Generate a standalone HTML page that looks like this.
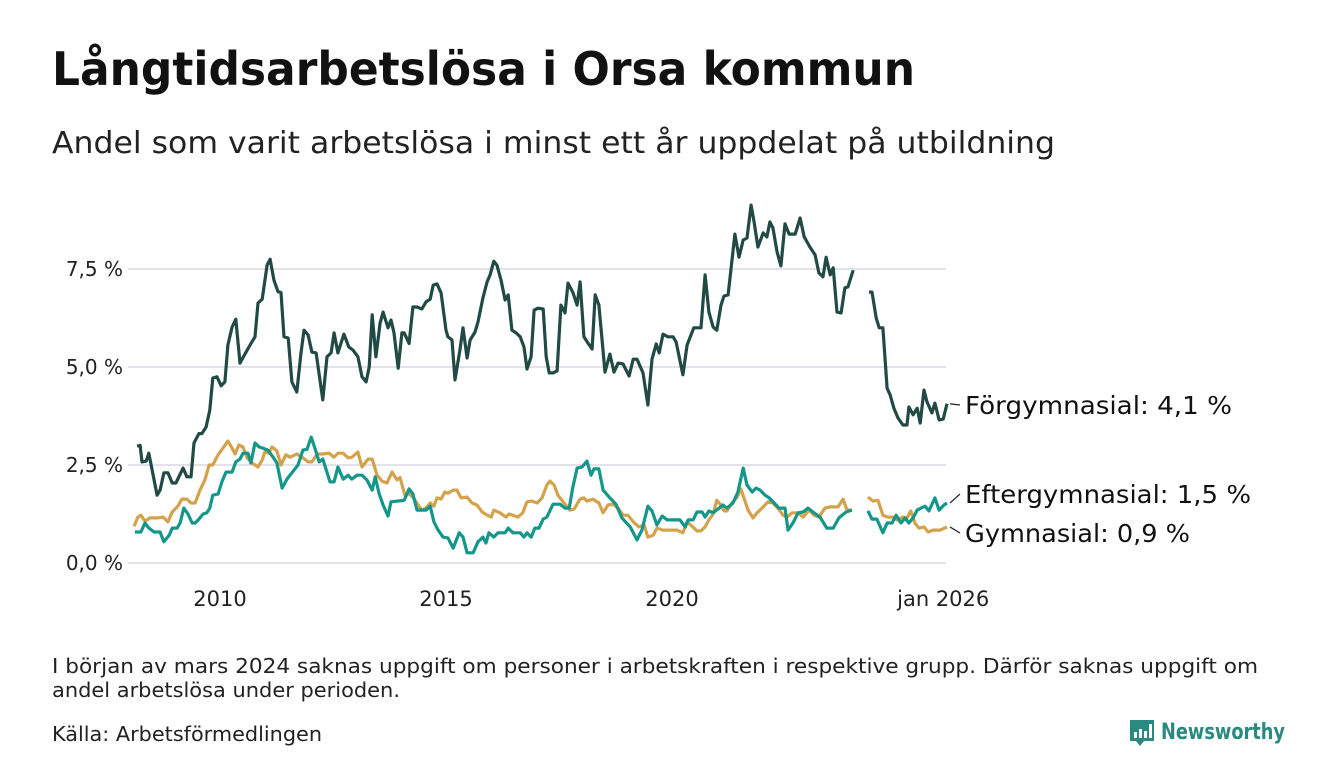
<!DOCTYPE html>
<html><head><meta charset="utf-8">
<style>
body{margin:0;background:#fff;font-family:"DejaVu Sans","Liberation Sans",sans-serif;}
#wrap{position:relative;width:1340px;height:780px;overflow:hidden;background:#fff;}
.t{position:absolute;white-space:nowrap;color:#111;transform-origin:0 0;}
</style></head>
<body>
<div id="wrap">
<div class="t fit" data-w="863" style="left:52px;top:42px;font-size:46px;font-weight:bold;">Långtidsarbetslösa i Orsa kommun</div>
<div class="t fit" data-w="1003" style="left:52px;top:126px;font-size:30px;color:#222;">Andel som varit arbetslösa i minst ett år uppdelat på utbildning</div>
<svg id="chart" width="1340" height="640" style="position:absolute;left:0;top:0" font-family="DejaVu Sans, Liberation Sans, sans-serif"></svg>
<div class="t fit" data-w="1206" style="left:52px;top:654px;font-size:20px;color:#222;">I början av mars 2024 saknas uppgift om personer i arbetskraften i respektive grupp. Därför saknas uppgift om</div>
<div class="t fit" data-w="348" style="left:52px;top:678px;font-size:20px;color:#222;">andel arbetslösa under perioden.</div>
<div class="t fit" data-w="270" style="left:52px;top:722px;font-size:20px;color:#222;">Källa: Arbetsförmedlingen</div>
<div style="position:absolute;left:1129px;top:718px;">
<svg width="160" height="34">
<path d="M1 2h24v21h-10l-4 5-4-5H1z" fill="#2a8a80"/>
<rect x="5" y="14" width="3" height="6" fill="#fff"/><rect x="10" y="11" width="3" height="9" fill="#fff"/><rect x="15" y="13" width="3" height="7" fill="#fff"/><rect x="20" y="6" width="3" height="14" fill="#fff"/>
<text x="32" y="21" font-size="22" font-weight="bold" fill="#2a8a80" textLength="124" lengthAdjust="spacingAndGlyphs" font-family="DejaVu Sans, sans-serif">Newsworthy</text>
</svg></div>
</div>
<script>
// months since Jan 2008
const monthsF=[2,2.8,3.3,4.4,5.1,7.3,8.1,9.1,10.2,11.3,12.3,14.2,15.2,16.3,17.1,18.4,19.2,20.3,21.3,22.1,23.2,24.3,25.3,26.1,27.2,28.2,29.3,30.6,32,33.3,34.1,35.2,36.5,37.3,38.3,39.4,40.2,41,42.1,43.1,44.4,45.5,46.3,47.4,48.4,49.5,51.3,52.4,53.5,54.3,55.3,56.9,58.2,59.3,60.6,61.7,62.8,63.6,64.4,65.4,66.5,67.3,68.6,69.4,70.2,71.3,72.3,72.9,74.2,75.2,76.3,77.6,78.7,79.8,80.6,81.6,82.7,84,84.5,85.6,86.4,87.7,88.5,89.6,90.4,91.7,92.5,93.8,94.9,95.7,96.7,97.5,98.6,99.7,100.5,101.5,102.6,103.7,104.7,105.5,106.6,107.4,108.4,109.8,110.6,111.4,112.4,113.5,114.5,115.6,116.4,117.7,118.8,119.6,120.6,121.7,122.8,123.6,124.6,126.2,127.5,128.6,129.7,131,132.6,133.7,134.7,136.3,137.6,138.7,139.8,140.6,141.6,142.9,144.3,145.1,146.9,148,149.8,151.7,152.8,153.8,154.9,155.9,157,157.8,158.9,160.7,161.8,162.9,163.9,165,165.8,166.8,168.2,169.2,170,170.8,171.9,172.9,174,175.1,176.7,178,179.1,180.6,182,183,184.1,184.9,186,186.8,187.8,188.9,189.9,190.7,192.1,194,196.3,197.1,198.2,199,200,201.1,201.9,202.9,204,205.3,206.4,206.9,208,209.1,209.9,210.9,211.7,213,213.8,214.9,216,217];
const valuesF=[2.98,3.0,2.58,2.6,2.8,1.73,1.86,2.3,2.3,2.04,2.04,2.42,2.2,2.2,3.06,3.3,3.3,3.47,3.9,4.72,4.75,4.52,4.62,5.56,6.02,6.22,5.1,5.33,5.56,5.77,6.63,6.73,7.6,7.75,7.22,6.92,6.9,5.77,5.74,4.62,4.36,5.36,5.94,5.82,5.38,5.36,4.16,5.26,5.36,5.87,5.36,5.84,5.51,5.43,5.26,4.75,4.62,5.0,6.33,5.26,6.12,6.4,6.0,6.2,5.87,4.97,5.87,5.87,5.6,6.53,6.53,6.48,6.66,6.73,7.09,7.12,6.89,5.94,5.77,5.69,4.67,5.43,6.0,5.23,5.69,5.89,6.15,6.76,7.17,7.35,7.7,7.6,7.22,6.71,6.84,5.94,5.87,5.77,5.51,4.95,5.26,6.45,6.5,6.48,5.26,4.85,4.85,4.9,6.58,6.38,7.14,6.9,6.58,7.17,5.77,5.61,5.46,6.84,6.58,4.87,5.33,4.87,5.1,5.08,4.77,5.2,5.2,4.85,4.03,5.2,5.59,5.36,5.84,5.77,5.77,5.64,4.8,5.56,6.0,6.0,7.35,6.4,6.02,5.94,6.58,6.81,6.84,8.39,7.8,8.24,8.29,9.13,8.7,8.06,8.42,8.32,8.7,8.55,7.93,7.58,8.65,8.39,8.39,8.8,8.32,8.06,7.86,7.4,7.3,7.8,7.35,7.53,6.4,6.38,7.02,7.04,7.47,null,6.91,6.91,6.25,6.0,6.0,4.46,4.29,3.95,3.7,3.52,3.52,3.98,3.78,3.95,3.57,4.41,4.11,3.83,4.08,3.65,3.67,4.06];
const monthsE=[1.4,3,4.1,5.1,6.5,8.1,9.1,10.5,11.3,12.6,13.4,14.4,15.5,16.6,17.4,18.4,19.5,20.5,21.3,22.1,23.5,24.5,25.6,27.2,28.2,29.3,30.1,31.4,32.2,33.3,34.4,35.4,36.7,38.1,39.1,40.5,41.8,43.1,44.7,46,47.1,48.2,49.2,50.3,51.3,53.2,54.3,55.3,56.7,58,59,60.4,61.7,63,64.4,65.2,66.2,67.3,68.6,69.4,72.9,74.2,75.2,76.3,78.7,79.8,80.8,81.9,83.2,84.5,85.9,87.5,88.5,89.6,91.2,92.5,93.8,94.6,95.4,96.7,97.8,99.7,100.5,101.8,103.7,104.7,105.5,106.6,107.6,108.7,109.8,110.8,112.4,114.3,115.6,116.7,117.7,118.8,120.1,121.4,122.5,123.3,124.6,125.7,127.5,129.1,130.7,132.9,134.7,136,137.6,138.7,140,141.4,142.7,144,146.1,147.5,148.3,149.6,150.6,152,152.8,153.8,154.9,156.5,157.5,158.6,160.2,161.5,162.9,163.9,165.3,166.3,167.4,168.7,169.8,171.1,172.4,174,174.8,176.1,177.5,178.8,180.1,181.4,183.3,185.1,186.8,188.3,190.2,191.8,194,196,197.1,198.4,200,201.1,202.4,203.5,204.8,205.9,206.9,208,209.1,210.1,211.2,212.2,213.8,214.9,216.2,217];
const valuesE=[0.79,0.79,1.02,0.89,0.79,0.79,0.54,0.71,0.89,0.89,1.02,1.4,1.25,1.02,1.02,1.12,1.25,1.28,1.4,1.73,1.76,2.07,2.32,2.32,2.58,2.65,2.8,2.8,2.55,3.06,2.96,2.93,2.88,2.7,2.55,1.91,2.14,2.3,2.5,2.88,2.9,3.21,2.93,2.58,2.65,2.07,2.07,2.45,2.14,2.24,2.14,2.24,2.24,2.12,1.86,2.2,1.78,1.48,1.2,1.56,1.6,1.89,1.76,1.35,1.35,1.45,1.05,0.84,0.66,0.64,0.38,0.77,0.66,0.26,0.26,0.54,0.66,0.51,0.77,0.66,0.77,0.77,0.89,0.77,0.77,0.66,0.77,0.66,0.89,0.89,1.12,1.17,1.5,1.5,1.4,1.4,1.94,2.42,2.45,2.6,2.24,2.4,2.4,1.86,1.66,1.5,1.15,0.92,0.59,0.84,1.45,1.33,0.97,1.2,1.1,1.1,1.1,0.92,1.1,1.1,1.3,1.3,1.17,1.33,1.28,1.4,1.48,1.4,1.53,1.81,2.42,1.99,1.81,1.91,1.86,1.73,1.66,1.53,1.4,1.4,0.84,1.02,1.28,1.3,1.4,1.3,1.17,0.89,0.89,1.15,1.3,1.35,null,1.33,1.12,1.12,0.77,1.02,1.02,1.22,1.02,1.15,1.02,1.15,1.35,1.4,1.45,1.33,1.66,1.35,1.48,1.53];
const monthsG=[1.2,2.2,3,4.1,5.4,7.5,8.9,10.2,11.3,12.8,13.9,15.2,16.3,17.4,18.7,20,21.1,22.1,23.5,24.8,26.1,27.2,28,29,30.1,31.2,32.5,34.1,35.2,35.9,37,37.8,39.1,40.2,41.5,42.6,44.4,45.8,47.4,48.4,49.8,51.3,52.9,54.3,55.3,56.7,58,59,60.6,61.7,63.3,64.4,65.7,67,68.3,69.7,71,71.8,73.1,73.9,75.2,76.6,77.6,78.7,79.8,80.8,81.6,82.7,83.7,84.5,85.9,86.9,88,89.6,90.9,92.2,93.6,94.9,96,96.7,98.3,99.9,100.7,101.8,103.1,104.4,105.5,106.8,108.2,109.5,110.8,111.6,112.7,113.7,115.1,116.9,118,119.6,120.6,121.4,123,124.6,125.7,127,128.3,129.7,131,132.3,133.7,135.2,136.6,137.6,139,140,141.6,145.3,146.9,148,149.3,150.6,151.7,152.8,153.8,154.9,155.9,157,157.8,158.6,159.9,161.3,162.3,163.1,164.2,165.5,166.6,167.9,169.5,170.8,172.1,173.5,174.5,175.9,177.5,178.8,180.4,181.7,183,184.6,186,188.1,189.4,190.5,191.8,194,196,197.4,198.7,200,201.4,202.7,203.8,205.3,206.4,207.4,208.5,209.6,210.9,212,213.3,215.2,217];
const valuesG=[0.94,1.17,1.22,1.07,1.15,1.15,1.17,1.05,1.3,1.45,1.63,1.63,1.53,1.53,1.86,2.12,2.5,2.5,2.76,2.93,3.11,2.93,2.78,3.01,2.96,2.68,2.55,2.45,2.63,2.83,2.8,2.96,2.86,2.5,2.76,2.7,2.78,2.7,2.58,2.58,2.78,2.78,2.8,2.7,2.8,2.8,2.68,2.7,2.83,2.45,2.65,2.65,2.24,2.09,2.04,2.32,2.12,2.18,1.73,1.78,1.68,1.48,1.35,1.4,1.53,1.45,1.66,1.63,1.81,1.78,1.86,1.86,1.66,1.68,1.53,1.48,1.3,1.22,1.17,1.35,1.28,1.17,1.25,1.22,1.17,1.28,1.56,1.58,1.53,1.66,1.99,2.09,1.99,1.73,1.56,1.35,1.38,1.63,1.66,1.58,1.63,1.53,1.28,1.48,1.5,1.4,1.22,1.22,1.05,0.92,0.97,0.66,0.71,0.89,0.84,0.84,0.77,1.05,0.94,0.82,0.82,0.92,1.1,1.25,1.6,1.48,1.33,1.33,1.53,1.68,1.89,1.66,1.35,1.15,1.28,1.4,1.56,1.53,1.4,1.22,1.17,1.28,1.28,1.17,1.35,1.22,1.17,1.4,1.43,1.43,1.63,1.35,1.35,null,1.68,1.58,1.6,1.22,1.17,1.17,1.1,1.17,1.15,1.33,1.02,0.89,0.92,0.79,0.84,0.84,0.92];
const yTicks=[0,2.5,5,7.5];
const yTickLabels=["0,0 %","2,5 %","5,0 %","7,5 %"];
const xTicks=[24,84,144,216];
const xTickLabels=["2010","2015","2020","jan 2026"];
const seriesNames=["Förgymnasial: 4,1 %","Eftergymnasial: 1,5 %","Gymnasial: 0,9 %"];

const NS="http://www.w3.org/2000/svg";
const svg=document.getElementById('chart');
const xs=m=>220+(m-24)*45.2/12;
const ys=v=>563-v*39.2;
function mk(tag,attrs){const e=document.createElementNS(NS,tag);for(const k in attrs)e.setAttribute(k,attrs[k]);svg.appendChild(e);return e;}
yTicks.forEach((t,i)=>{
  const g=mk('line',{x1:128,x2:946,y1:ys(t),y2:ys(t),stroke:'#e2e2e8','stroke-width':2});
  
  
  const tx=mk('text',{x:123,y:ys(t)+7,'text-anchor':'end','font-size':20,fill:'#222'});
  tx.textContent=yTickLabels[i];
  
  
});
xTicks.forEach((t,i)=>{
  const tx=mk('text',{x:xs(t),y:606,'text-anchor':'middle','font-size':21,fill:'#222'});
  tx.textContent=xTickLabels[i];
  
  
});
function line(ms,vs,color,name){
  let d='',pen=false;
  ms.forEach((m,i)=>{const v=vs[i];if(v===null){pen=false;return;}d+=(pen?'L':'M')+xs(m).toFixed(1)+' '+ys(v).toFixed(1);pen=true;});
  const p=mk('path',{d:d,fill:'none',stroke:color,'stroke-width':3.2,'stroke-linejoin':'round'});
  
  
}
line(monthsG,valuesG,'#d4a24c','line-gymnasial');
line(monthsE,valuesE,'#14968a','line-eftergymnasial');
line(monthsF,valuesF,'#224a44','line-forgymnasial');
const ends=[[monthsF,valuesF,405,267],[monthsE,valuesE,494,286],[monthsG,valuesG,533,225]];
ends.forEach((e,i)=>{
  const m=e[0][e[0].length-1],v=e[1][e[1].length-1];
  const l=mk('line',{x1:xs(m)+3,y1:ys(v),x2:960,y2:e[2],stroke:'#222','stroke-width':1.2});
  
  
  const tx=mk('text',{x:965,y:e[2]+9,'font-size':25,fill:'#111',textLength:e[3],lengthAdjust:'spacingAndGlyphs'});
  tx.textContent=seriesNames[i];
  
  
});
document.querySelectorAll('.fit').forEach(el=>{
  const w=el.getBoundingClientRect().width;
  const target=+el.getAttribute('data-w');
  if(w>0) el.style.transform='scaleX('+(target/w)+')';
});
</script>
</body></html>
